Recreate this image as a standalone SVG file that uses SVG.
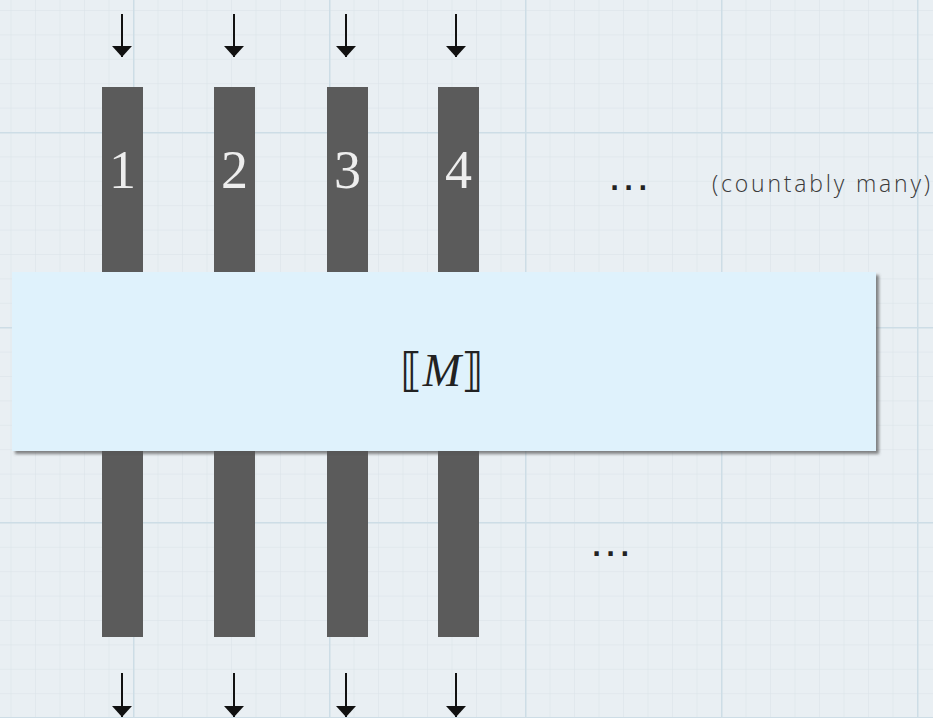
<svg xmlns="http://www.w3.org/2000/svg" width="933" height="718" viewBox="0 0 933 718">
<defs>
<style>
.bar{fill:#5b5b5b}
.num{font-family:"Liberation Serif","DejaVu Serif",serif;font-size:54px;fill:#eeeeee;text-anchor:middle}
.arr{stroke:#111;stroke-width:2}
.dots{font-family:"DejaVu Sans",sans-serif;font-size:24px;font-weight:bold;fill:#222;letter-spacing:5px}
.lbl{font-family:"Open Sans","DejaVu Sans",sans-serif;font-size:23px;fill:#3a3a3a;font-weight:300}
</style>
<pattern id="minor" x="133" y="132" width="24.5" height="24.4" patternUnits="userSpaceOnUse">
<path d="M0 0V24.4M0 0H24.5" fill="none" stroke="#d9e2e8" stroke-width="1"/>
</pattern>
<pattern id="major" x="133" y="132" width="196" height="195" patternUnits="userSpaceOnUse">
<path d="M0.5 0V195M0 0.5H196" fill="none" stroke="#cddde6" stroke-width="2"/>
</pattern>
<marker id="ah" viewBox="0 0 11 20" refX="11" refY="10" markerWidth="11" markerHeight="20" markerUnits="userSpaceOnUse" orient="auto">
<path d="M0 0L11 10L0 20Z" fill="#111"/>
</marker>
<filter id="sh" x="-5%" y="-5%" width="110%" height="115%">
<feDropShadow dx="3" dy="3" stdDeviation="1.5" flood-color="#555" flood-opacity="0.7"/>
</filter>
</defs>
<rect width="933" height="718" fill="#e9eff3"/>
<rect width="933" height="718" fill="url(#minor)"/>
<rect width="933" height="718" fill="url(#major)"/>
<g id="connectors">
<line class="arr" x1="122" y1="14" x2="122" y2="57" marker-end="url(#ah)"/>
<line class="arr" x1="234" y1="14" x2="234" y2="57" marker-end="url(#ah)"/>
<line class="arr" x1="346" y1="14" x2="346" y2="57" marker-end="url(#ah)"/>
<line class="arr" x1="456" y1="14" x2="456" y2="57" marker-end="url(#ah)" stroke="#333"/>
<line class="arr" x1="122" y1="673" x2="122" y2="717" marker-end="url(#ah)"/>
<line class="arr" x1="234" y1="673" x2="234" y2="717" marker-end="url(#ah)"/>
<line class="arr" x1="346" y1="673" x2="346" y2="717" marker-end="url(#ah)"/>
<line class="arr" x1="456" y1="673" x2="456" y2="717" marker-end="url(#ah)" stroke="#333"/>
</g>
<g id="wire1"><rect class="bar" x="102" y="87" width="41" height="550"/><text class="num" x="122.5" y="188">1</text></g>
<g id="wire2"><rect class="bar" x="214" y="87" width="41" height="550"/><text class="num" x="234.5" y="188">2</text></g>
<g id="wire3"><rect class="bar" x="327" y="87" width="41" height="550"/><text class="num" x="347.5" y="188">3</text></g>
<g id="wire4"><rect class="bar" x="438" y="87" width="41" height="550"/><text class="num" x="458.5" y="188">4</text></g>
<g id="more-top"><text class="dots" x="610" y="190">...</text><text class="lbl" x="712" y="192" textLength="218" lengthAdjust="spacing">(countably many)</text></g>
<g id="more-bottom"><text class="dots" x="592" y="556">...</text></g>
<g id="box">
<rect x="12" y="272" width="864" height="179" fill="#dff2fc" filter="url(#sh)"/>
<text x="442" y="386" font-family="DejaVu Serif,Liberation Serif,serif" font-size="46" fill="#222" text-anchor="middle">⟦<tspan font-family="Liberation Serif,serif" font-style="italic">M</tspan>⟧</text>
</g>
</svg>
